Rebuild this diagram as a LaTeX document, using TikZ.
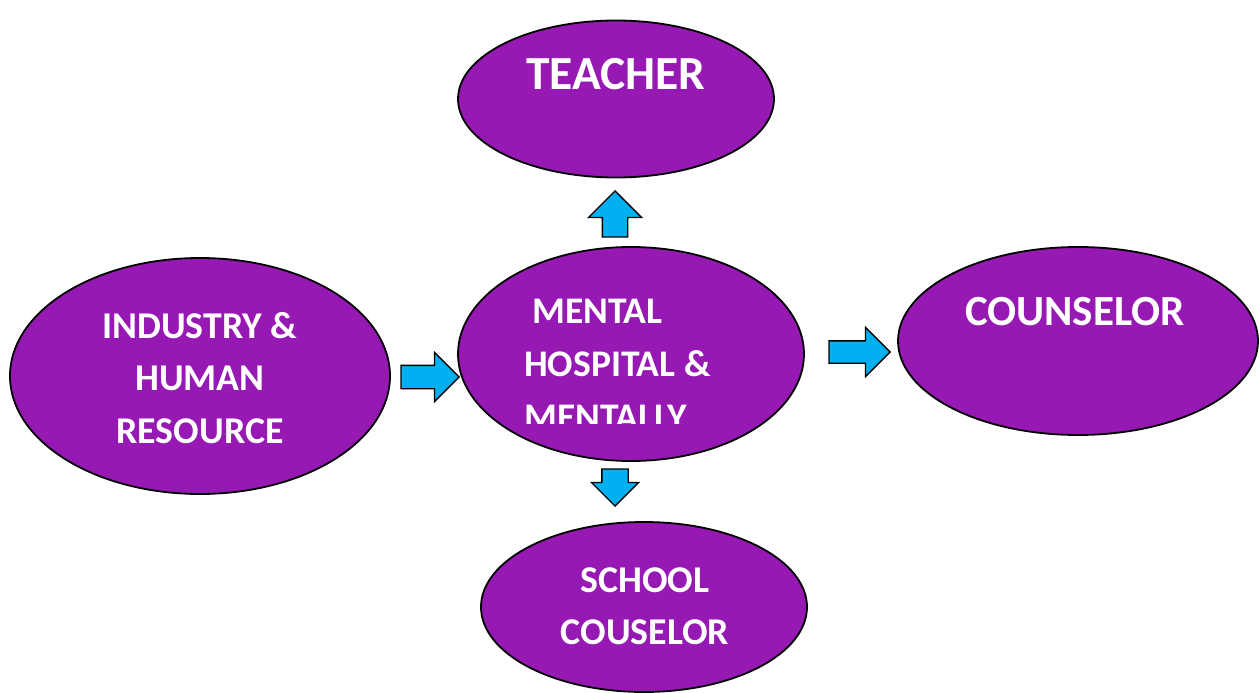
\documentclass[tikz,border=0pt]{standalone}
\usepackage{fontspec}
\setmainfont{Carlito}
\usetikzlibrary{shapes.geometric}
\usetikzlibrary{shapes.arrows}
\definecolor{nodepurple}{HTML}{9619B4}
\definecolor{arrowblue}{HTML}{00B0F0}

\begin{document}
\begin{tikzpicture}[x=1pt,y=-1pt,
	main node/.style={ellipse,draw=black,fill=nodepurple,line width=1.8pt,inner sep=0pt},
	label text/.style={text=white,font=\bfseries,inner sep=0pt,align=center,anchor=north},
	block arrow/.style={single arrow,draw=black,fill=arrowblue,line width=1.3pt,
		inner sep=0pt,single arrow head indent=0pt,anchor=tip}]
	
	\useasboundingbox (0,0) rectangle (1259,693);
	
	\node[main node,minimum width=316pt,minimum height=157pt] (teacher) at (616,99) {};
	\node[main node,minimum width=346pt,minimum height=214pt] (mental) at (631,354) {};
	\node[main node,minimum width=380pt,minimum height=236pt] (industry) at (200,376) {};
	\node[main node,minimum width=360pt,minimum height=188pt] (counselor) at (1078,341) {};
	\node[main node,minimum width=326pt,minimum height=170pt] (school) at (644,607) {};
	
	\node[label text,font=\bfseries\fontsize{47.5}{52}\selectfont] (teachertext) at (616,58) {TEACHER};
	\node[label text,font=\bfseries\fontsize{43}{52}\selectfont] (counselortext) at (1075,297) {COUNSELOR};
	\node[label text,font=\bfseries\fontsize{37.8}{52.5}\selectfont] (industrytext) at (200,312) {INDUSTRY \&\\HUMAN\\RESOURCE};
	\node[label text,font=\bfseries\fontsize{37.8}{52}\selectfont] (schooltext) at (645,568) {SCHOOL\\COUSELOR};
	\begin{scope}
		\clip (450,250) rectangle (810,423);
		\node[label text,align=left,anchor=north west,font=\bfseries\fontsize{37.6}{53}\selectfont] (mentaltext) at (524,299) {\hspace*{8pt}MENTAL\\HOSPITAL \&\\MENTALLY};
	\end{scope}
	
	\node[block arrow,minimum height=46pt,inner xsep=12pt,single arrow head extend=14pt,shape border rotate=90] (toteacher) at (615,190) {};
	\node[block arrow,minimum height=58pt,inner ysep=11pt,single arrow head extend=13pt] (tomental) at (460,377) {};
	\node[block arrow,minimum height=61pt,inner ysep=10.5pt,single arrow head extend=13.5pt] (tocounselor) at (891,352) {};
	\node[block arrow,minimum height=37pt,inner xsep=12.5pt,single arrow head extend=10.5pt,shape border rotate=270] (toschool) at (615,507) {};
\end{tikzpicture}
\end{document}
